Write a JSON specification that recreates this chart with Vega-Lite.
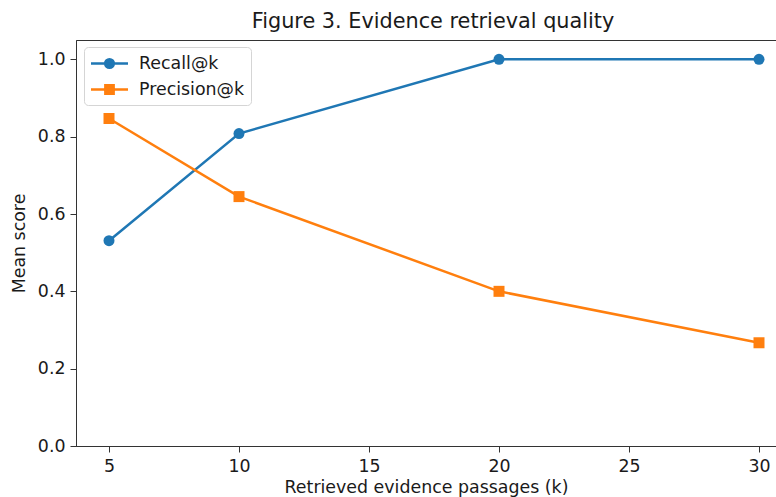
{
  "$schema": "https://vega.github.io/schema/vega-lite/v6.json",
  "width": 700,
  "height": 406,
  "autosize": {"type": "none"},
  "padding": {"left": 76, "top": 40, "right": 0, "bottom": 51},
  "background": "white",
  "title": {"text": "Figure 3. Evidence retrieval quality", "font": "DejaVu Sans", "fontSize": 20.8, "fontWeight": "normal", "color": "#1a1a1a", "anchor": "middle", "dx": 7, "offset": 7},
  "data": {"values": [
    {"k": 5, "series": "Recall@k", "score": 0.531},
    {"k": 10, "series": "Recall@k", "score": 0.808},
    {"k": 20, "series": "Recall@k", "score": 1.0},
    {"k": 30, "series": "Recall@k", "score": 1.0},
    {"k": 5, "series": "Precision@k", "score": 0.847},
    {"k": 10, "series": "Precision@k", "score": 0.645},
    {"k": 20, "series": "Precision@k", "score": 0.4},
    {"k": 30, "series": "Precision@k", "score": 0.267}
  ]},
  "encoding": {
    "x": {"field": "k", "type": "quantitative", "scale": {"domain": [3.7308, 30.6538], "nice": false, "zero": false},
      "axis": {"values": [5, 10, 15, 20, 25, 30], "title": "Retrieved evidence passages (k)", "format": "d"}},
    "y": {"field": "score", "type": "quantitative", "scale": {"domain": [0, 1.05], "nice": false},
      "axis": {"values": [0, 0.2, 0.4, 0.6, 0.8, 1.0], "format": ".1f", "title": "Mean score"}},
    "color": {"field": "series", "type": "nominal", "sort": ["Recall@k", "Precision@k"],
      "scale": {"domain": ["Recall@k", "Precision@k"], "range": ["#1f77b4", "#ff7f0e"]},
      "legend": {"orient": "none", "legendX": 8, "legendY": 7, "title": null,
        "strokeColor": "#d5d5d5", "fillColor": "white", "cornerRadius": 4, "padding": 6,
        "labelFont": "DejaVu Sans", "labelFontSize": 17.4, "labelColor": "#1a1a1a", "labelOffset": 19,
        "symbolSize": 324, "symbolOffset": 9, "rowPadding": 6,
        "encode": {"symbols": {"update": {
          "shape": {"signal": "datum.value == 'Recall@k' ? 'M-2.056,0H2.056M0.48,0A0.48,0.48,0,1,1,-0.48,0A0.48,0.48,0,1,1,0.48,0Z' : 'M-2.056,0H2.056M-0.46,-0.46H0.46V0.46H-0.46Z'"},
          "stroke": {"signal": "datum.value == 'Recall@k' ? '#1f77b4' : '#ff7f0e'"},
          "fill": {"signal": "datum.value == 'Recall@k' ? '#1f77b4' : '#ff7f0e'"},
          "strokeWidth": {"value": 2.5},
          "opacity": {"value": 1}
        }}}}
    }
  },
  "layer": [
    {"mark": {"type": "line", "strokeWidth": 2.5}},
    {"transform": [{"filter": "datum.series == 'Recall@k'"}],
     "mark": {"type": "point", "shape": "circle", "filled": true, "opacity": 1, "size": 121, "strokeWidth": 0}},
    {"transform": [{"filter": "datum.series == 'Precision@k'"}],
     "mark": {"type": "point", "shape": "square", "filled": true, "opacity": 1, "size": 121, "strokeWidth": 0}}
  ],
  "config": {
    "view": {"stroke": "#333", "strokeWidth": 1},
    "axis": {"grid": false, "domainColor": "#333", "domainWidth": 1, "tickColor": "#333", "tickSize": 6, "tickWidth": 1,
      "labelFont": "DejaVu Sans", "labelFontSize": 17.4, "labelColor": "#1a1a1a", "labelPadding": 5,
      "titleFont": "DejaVu Sans", "titleFontSize": 17.4, "titleFontWeight": "normal", "titleColor": "#1a1a1a"},
    "axisX": {"titlePadding": 4},
    "axisY": {"titlePadding": 9, "labelFlush": false}
  }
}
